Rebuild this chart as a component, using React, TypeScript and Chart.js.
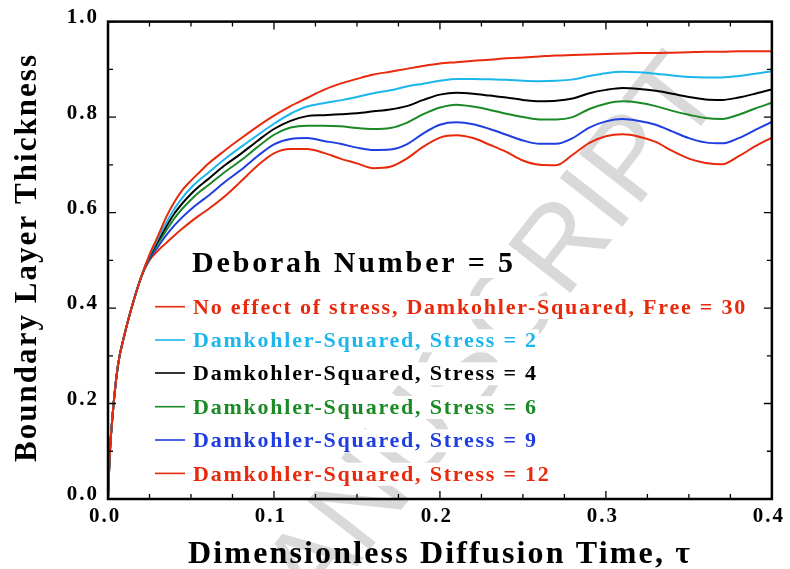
import React, { useEffect, useRef } from "react";
import { Chart, registerables } from "chart.js";

Chart.register(...registerables);

// ---------- data ----------
const tau = [
  0, 0.001, 0.003, 0.006, 0.01, 0.015, 0.02,
  0.025, 0.03, 0.035, 0.04, 0.045, 0.05, 0.055,
  0.06, 0.07, 0.08, 0.09, 0.1, 0.11, 0.12, 0.13, 0.14, 0.15,
  0.16, 0.17, 0.18, 0.19, 0.2, 0.21, 0.22, 0.23, 0.24, 0.25,
  0.26, 0.27, 0.28, 0.29, 0.3, 0.31, 0.32, 0.33, 0.34, 0.35,
  0.36, 0.37, 0.38, 0.39, 0.4,
];

const noStress = [
  0, 0.09, 0.185, 0.28, 0.345, 0.41, 0.465,
  0.512, 0.55, 0.59, 0.622, 0.648, 0.667, 0.684,
  0.701, 0.729, 0.755, 0.78, 0.803, 0.823, 0.84, 0.857, 0.87, 0.88,
  0.889, 0.895, 0.901, 0.907, 0.912, 0.915, 0.918, 0.92, 0.923, 0.925,
  0.927, 0.929, 0.93, 0.931, 0.932, 0.933, 0.934, 0.934, 0.935, 0.936,
  0.937, 0.937, 0.938, 0.938, 0.938,
];

const stress2 = [
  0, 0.09, 0.185, 0.28, 0.345, 0.41, 0.465,
  0.51, 0.545, 0.578, 0.608, 0.632, 0.652, 0.668,
  0.682, 0.711, 0.737, 0.762, 0.786, 0.807, 0.822, 0.829, 0.835, 0.842,
  0.85, 0.856, 0.864, 0.87, 0.876, 0.88, 0.88, 0.879, 0.878, 0.876,
  0.875, 0.876, 0.879, 0.886, 0.892, 0.895, 0.894, 0.891, 0.887, 0.884,
  0.883, 0.883, 0.886, 0.891, 0.896,
];

const stress4 = [
  0, 0.09, 0.185, 0.28, 0.345, 0.41, 0.465,
  0.508, 0.54, 0.57, 0.598, 0.62, 0.639, 0.655,
  0.669, 0.698, 0.723, 0.75, 0.775, 0.792, 0.802, 0.804, 0.806, 0.808,
  0.812, 0.816, 0.823, 0.836, 0.847, 0.851, 0.849, 0.845, 0.841, 0.836,
  0.833, 0.834, 0.839, 0.85, 0.857, 0.861, 0.859, 0.855, 0.849, 0.842,
  0.837, 0.836, 0.841, 0.849, 0.858,
];

const stress6 = [
  0, 0.09, 0.185, 0.28, 0.345, 0.41, 0.465,
  0.506, 0.535, 0.562, 0.588, 0.609, 0.627, 0.643,
  0.656, 0.684, 0.709, 0.737, 0.763, 0.778, 0.782, 0.782, 0.781, 0.777,
  0.775, 0.777, 0.788, 0.806, 0.82, 0.826, 0.822, 0.815, 0.807, 0.8,
  0.795, 0.795, 0.8, 0.817, 0.828, 0.833, 0.83, 0.823, 0.813, 0.805,
  0.798, 0.796, 0.805, 0.818, 0.83,
];

const stress9 = [
  0, 0.09, 0.185, 0.28, 0.345, 0.41, 0.465,
  0.503, 0.528, 0.552, 0.573, 0.591, 0.607, 0.621,
  0.634, 0.663, 0.689, 0.718, 0.743, 0.754, 0.756, 0.75, 0.744, 0.736,
  0.731, 0.732, 0.743, 0.766, 0.784, 0.789, 0.785, 0.775, 0.763, 0.751,
  0.744, 0.744, 0.756, 0.778, 0.791, 0.796, 0.792, 0.784, 0.77, 0.756,
  0.747, 0.745, 0.756, 0.773, 0.79,
];

const stress12 = [
  0, 0.09, 0.185, 0.28, 0.345, 0.41, 0.465,
  0.5, 0.52, 0.536, 0.552, 0.567, 0.581, 0.594,
  0.606, 0.633, 0.665, 0.698, 0.724, 0.733, 0.733, 0.725, 0.713, 0.703,
  0.693, 0.696, 0.713, 0.738, 0.757, 0.762, 0.756, 0.742, 0.727, 0.709,
  0.7, 0.699, 0.721, 0.746, 0.76, 0.764, 0.759, 0.748, 0.729, 0.713,
  0.704, 0.701, 0.718, 0.739, 0.757,
];

const seriesList = [noStress, stress2, stress4, stress6, stress9, stress12];
const seriesLabels = [
  "No effect of stress, Damkohler-Squared, Free = 30",
  "Damkohler-Squared, Stress = 2",
  "Damkohler-Squared, Stress = 4",
  "Damkohler-Squared, Stress = 6",
  "Damkohler-Squared, Stress = 9",
  "Damkohler-Squared, Stress = 12",
];
const seriesColors = ["#e8290c", "#1cb6ec", "#000000", "#1a8a24", "#1f3ee0", "#e8290c"];

const xTickStep = 0.1;
const yTickStep = 0.2;
const xMinorStep = 0.025;
const yMinorStep = 0.1;

const xTitle = "Dimensionless Diffusion Time, \u03c4";
const yTitle = "Boundary Layer Thickness";
const noteText = "Deborah Number = 5";
const watermarkText = "ACCEPTED MANUSCRIPT";

const SERIF = '"Liberation Serif", "Times New Roman", Times, serif';

function fitSpacing(ctx: CanvasRenderingContext2D, text: string, target: number) {
  (ctx as any).letterSpacing = "0px";
  const w = ctx.measureText(text).width;
  return (target - w) / (text.length - 1);
}

function drawSpaced(ctx: CanvasRenderingContext2D, text: string, x: number, y: number, spacing: number) {
  (ctx as any).letterSpacing = spacing + "px";
  ctx.textAlign = "left";
  ctx.textBaseline = "alphabetic";
  ctx.fillText(text, x, y);
  (ctx as any).letterSpacing = "0px";
}

const decorPlugin = {
  id: "decor",
  beforeDraw(chart: any) {
    const ctx: CanvasRenderingContext2D = chart.ctx;
    ctx.save();
    ctx.fillStyle = "#ffffff";
    ctx.fillRect(0, 0, chart.width, chart.height);
    // watermark
    ctx.fillStyle = "#d9d9d9";
    ctx.font = '115px "Liberation Sans", Arial, sans-serif';
    ctx.translate(726, 94);
    ctx.rotate((-52 * Math.PI) / 180);
    ctx.textAlign = "right";
    ctx.textBaseline = "alphabetic";
    ctx.fillText(watermarkText, 0, 0);
    ctx.restore();
    // letter spacing for the tick labels drawn by the scales
    (ctx as any).letterSpacing = "2px";
  },
  beforeDatasetsDraw(chart: any) {
    (chart.ctx as any).letterSpacing = "0px";
  },
  afterDatasetsDraw(chart: any) {
    const ctx: CanvasRenderingContext2D = chart.ctx;
    const { left, right, top, bottom } = chart.chartArea;
    const xs = chart.scales.x;
    const ys = chart.scales.y;
    ctx.save();

    // frame
    ctx.strokeStyle = "#000";
    ctx.lineWidth = 2.5;
    ctx.strokeRect(left, top, right - left, bottom - top);

    // ticks (inward, all four sides)
    ctx.lineWidth = 1.3;
    ctx.beginPath();
    const nx = Math.round((xs.max - xs.min) / xMinorStep);
    for (let i = 0; i <= nx; i++) {
      const v = xs.min + i * xMinorStep;
      const px = xs.getPixelForValue(v);
      const major = Math.abs(v / xTickStep - Math.round(v / xTickStep)) < 1e-6;
      const len = major ? 8 : 5;
      ctx.moveTo(px, bottom);
      ctx.lineTo(px, bottom - len);
      ctx.moveTo(px, top);
      ctx.lineTo(px, top + len);
    }
    const ny = Math.round((ys.max - ys.min) / yMinorStep);
    for (let i = 0; i <= ny; i++) {
      const v = ys.min + i * yMinorStep;
      const py = ys.getPixelForValue(v);
      const major = Math.abs(v / yTickStep - Math.round(v / yTickStep)) < 1e-6;
      const len = major ? 8 : 5;
      ctx.moveTo(left, py);
      ctx.lineTo(left + len, py);
      ctx.moveTo(right, py);
      ctx.lineTo(right - len, py);
    }
    ctx.stroke();

    // note text
    ctx.font = "bold 30px " + SERIF;
    const noteSp = fitSpacing(ctx, noteText, 321);
    ctx.fillStyle = "#fff";
    ctx.fillRect(189, 250, 328, 28);
    ctx.fillStyle = "#000";
    drawSpaced(ctx, noteText, 192, 272, noteSp);

    // legend
    ctx.font = "bold 22px " + SERIF;
    const legSp = fitSpacing(ctx, seriesLabels[1], 343);
    const baselines = [314, 347.3, 380.3, 414, 447.3, 480.7];
    seriesLabels.forEach((label, i) => {
      const by = baselines[i];
      (ctx as any).letterSpacing = legSp + "px";
      const w = ctx.measureText(label).width;
      (ctx as any).letterSpacing = "0px";
      ctx.fillStyle = "#fff";
      ctx.fillRect(190, by - 18, w + 4, 23);
      ctx.strokeStyle = seriesColors[i];
      ctx.lineWidth = 1.6;
      ctx.beginPath();
      ctx.moveTo(155, by - 7.3);
      ctx.lineTo(185, by - 7.3);
      ctx.stroke();
      ctx.fillStyle = seriesColors[i];
      drawSpaced(ctx, label, 193, by, legSp);
    });

    // axis titles
    ctx.fillStyle = "#000";
    ctx.font = "bold 32px " + SERIF;
    const xSp = fitSpacing(ctx, xTitle, 502);
    drawSpaced(ctx, xTitle, 188, 563, xSp);

    ctx.font = "bold 31px " + SERIF;
    const ySp = fitSpacing(ctx, yTitle, 407);
    ctx.translate(36, 462);
    ctx.rotate(-Math.PI / 2);
    drawSpaced(ctx, yTitle, 0, 0, ySp);

    ctx.restore();
  },
};

export default function App() {
  const canvasRef = useRef<HTMLCanvasElement | null>(null);

  useEffect(() => {
    const canvas = canvasRef.current;
    if (!canvas) return;
    let chart: Chart | null = null;
    let cancelled = false;

    const build = () => {
      if (cancelled) return;
      const datasets = seriesList.map((s, i) => ({
        label: seriesLabels[i],
        data: tau.map((t, j) => ({ x: t, y: s[j] })),
        borderColor: seriesColors[i],
        backgroundColor: seriesColors[i],
        borderWidth: 2,
        pointRadius: 0,
        fill: false,
        cubicInterpolationMode: "monotone" as const,
      }));
      const tickFont = { family: SERIF, size: 21, weight: "bold" as const };
      chart = new Chart(canvas, {
        type: "line",
        data: { datasets },
        options: {
          responsive: false,
          animation: false,
          devicePixelRatio: 1,
          layout: { padding: { top: 21, right: 12, left: 0, bottom: 0 } },
          plugins: { legend: { display: false }, tooltip: { enabled: false }, title: { display: false } },
          scales: {
            x: {
              type: "linear",
              min: 0,
              max: 0.4,
              grid: { display: false, drawTicks: false },
              border: { display: false },
              ticks: {
                stepSize: xTickStep,
                autoSkip: false,
                maxRotation: 0,
                padding: 5,
                labelOffset: -3,
                color: "#000",
                font: tickFont,
                callback: (v: any) => Number(v).toFixed(1),
              },
              afterFit: (s: any) => {
                s.height = 70;
              },
            },
            y: {
              type: "linear",
              min: 0,
              max: 1,
              grid: { display: false, drawTicks: false },
              border: { display: false },
              ticks: {
                stepSize: yTickStep,
                autoSkip: false,
                padding: 9,
                labelOffset: -4,
                color: "#000",
                font: tickFont,
                callback: (v: any) => Number(v).toFixed(1),
              },
              afterFit: (s: any) => {
                s.width = 108;
              },
            },
          },
        },
        plugins: [decorPlugin],
      });
    };

    const fontsApi: any = (document as any).fonts;
    if (fontsApi && fontsApi.load) {
      Promise.all([
        fontsApi.load('bold 22px "Liberation Serif"'),
        fontsApi.load('bold 32px "Liberation Serif"'),
        fontsApi.load('115px "Liberation Sans"'),
      ])
        .catch(() => null)
        .then(build);
    } else {
      build();
    }

    return () => {
      cancelled = true;
      if (chart) chart.destroy();
    };
  }, []);

  return (
    <div style={{ position: "absolute", left: 0, top: 0, width: 790, height: 569, background: "#fff" }}>
      <canvas ref={canvasRef} width={790} height={569} style={{ display: "block" }} />
    </div>
  );
}
